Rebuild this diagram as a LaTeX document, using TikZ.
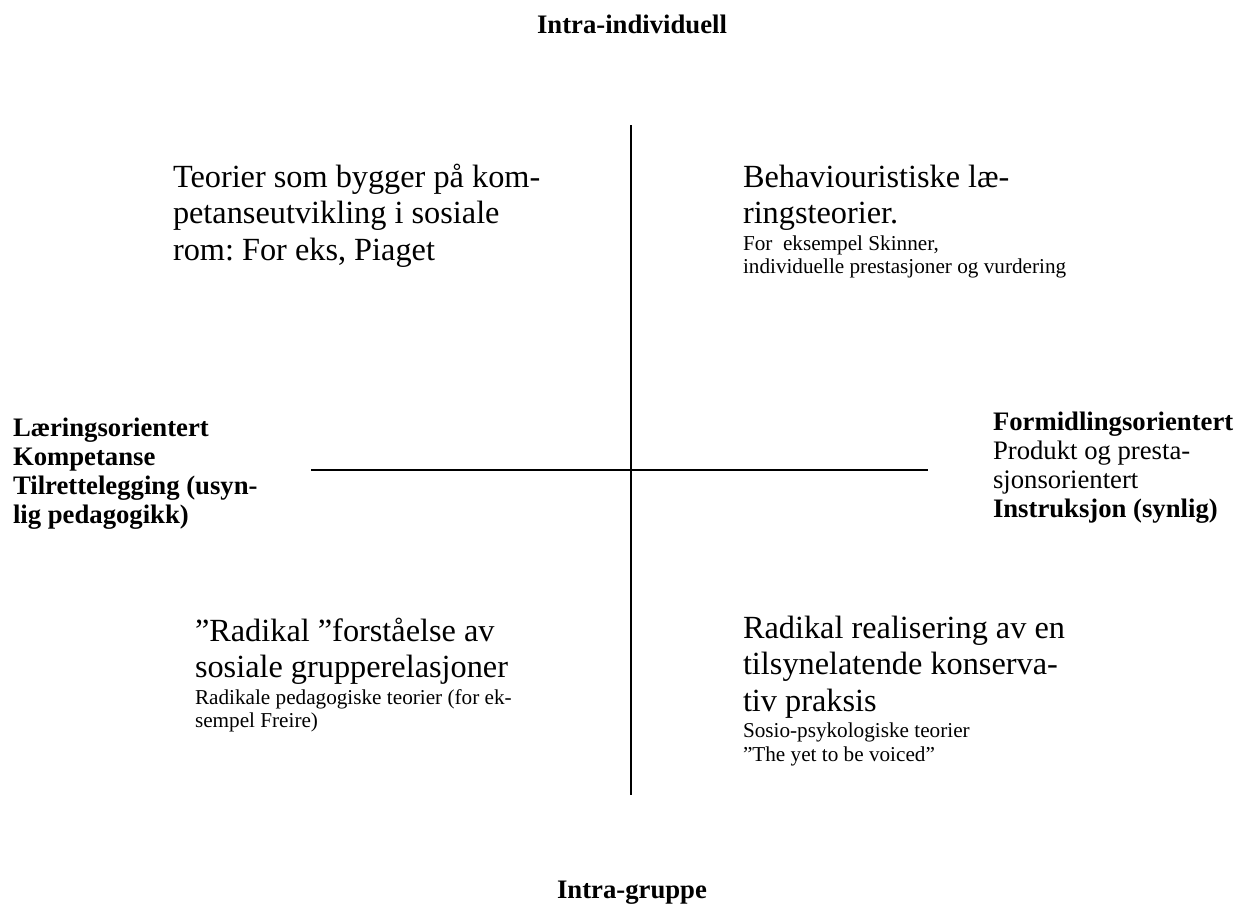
\documentclass[tikz,border=0pt]{standalone}
\usepackage{fontspec}
\setmainfont{Liberation Serif}
\frenchspacing
\tikzset{
  axis/.style={line width=2pt, line cap=butt},
  blk/.style={inner sep=0pt, outer sep=0pt, anchor=base west},
  axlab/.style={inner sep=0pt, outer sep=0pt, anchor=base, font=\rmfamily\fontsize{26.7}{30}\selectfont\bfseries},
}
\newcommand{\bigtxt}{\rmfamily\fontsize{32.3}{36.5}\selectfont}
\newcommand{\smalltxt}{\rmfamily\fontsize{21.2}{23.5}\selectfont}
\newcommand{\labtxt}{\rmfamily\fontsize{26.7}{29}\selectfont}
\newcommand{\blkbox}[1]{\begin{minipage}[t]{520pt}\raggedright #1\end{minipage}}
\begin{document}
\begin{tikzpicture}[x=1pt,y=-1pt]
\useasboundingbox (0,0) rectangle (1238,921);
% axes
\coordinate (top) at (631,125);
\coordinate (bot) at (631,795);
\coordinate (lft) at (311,470);
\coordinate (rgt) at (928,470);
\draw[axis] (top) -- (bot);
\draw[axis] (lft) -- (rgt);
% axis labels
\node[axlab] (ti) at (632,33) {Intra-individuell};
\node[axlab] (bi) at (632,898) {Intra-gruppe};
\node[blk] (le) at (13,436) {\blkbox{\labtxt\bfseries Læringsorientert\\Kompetanse\\Tilrettelegging (usyn-\\lig pedagogikk)}};
\node[blk] (ri) at (993,430) {\blkbox{\labtxt\textbf{Formidlingsorientert}\\Produkt og presta-\\sjonsorientert\\\textbf{Instruksjon (synlig)}}};
% quadrants
\node[blk] (q1) at (173,187) {\blkbox{\bigtxt Teorier som bygger på kom-\\petanseutvikling i sosiale\\rom: For eks, Piaget}};
\node[blk] (q2) at (743,187) {\blkbox{\bigtxt Behaviouristiske læ-\\ringsteorier.\par\vspace{3pt}\smalltxt For\ \ eksempel Skinner,\\individuelle prestasjoner og vurdering}};
\node[blk] (q3) at (195,641) {\blkbox{\bigtxt ”Radikal ”forståelse av\\sosiale grupperelasjoner\par\vspace{3pt}\smalltxt Radikale pedagogiske teorier (for ek-\\sempel Freire)}};
\node[blk] (q4) at (743,638) {\blkbox{\bigtxt Radikal realisering av en\\tilsynelatende konserva-\\tiv praksis\par\vspace{3pt}\smalltxt Sosio-psykologiske teorier\\”The yet to be voiced”}};
\end{tikzpicture}
\end{document}
